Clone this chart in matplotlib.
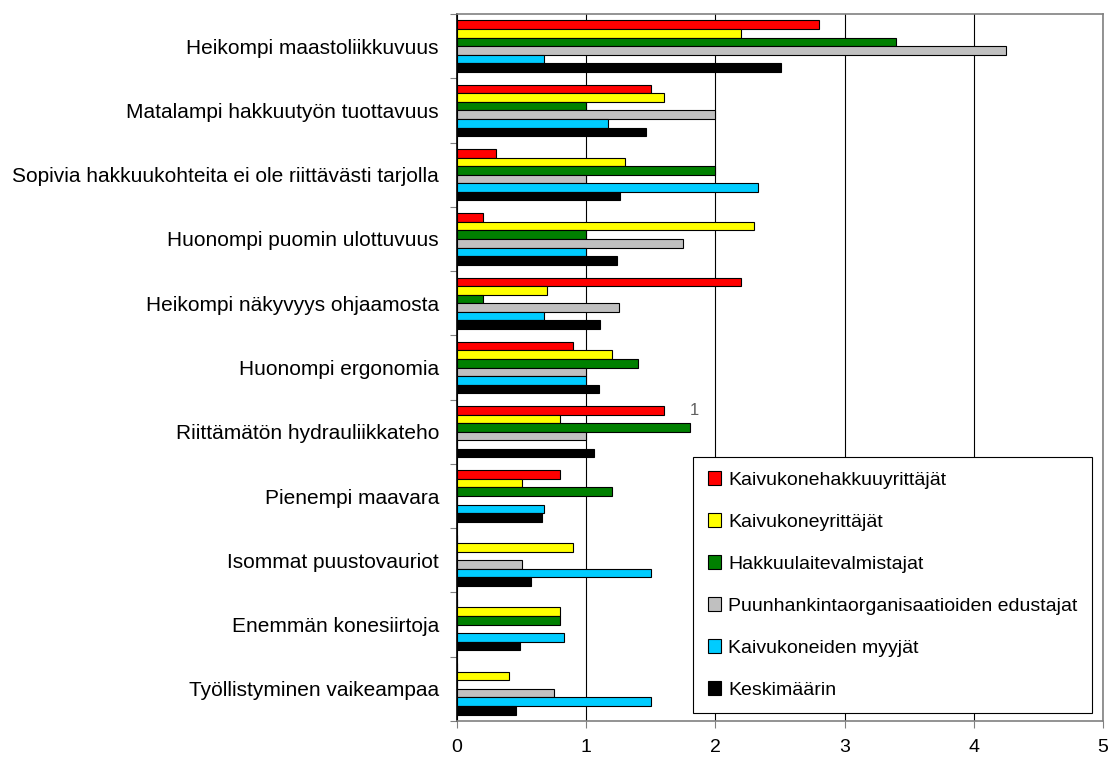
import numpy as np
import matplotlib
matplotlib.use("Agg")
import matplotlib.pyplot as plt

plt.rcParams["font.family"] = ["Liberation Sans", "DejaVu Sans"]

categories = [
    "Heikompi maastoliikkuvuus",
    "Matalampi hakkuutyön tuottavuus",
    "Sopivia hakkuukohteita ei ole riittävästi tarjolla",
    "Huonompi puomin ulottuvuus",
    "Heikompi näkyvyys ohjaamosta",
    "Huonompi ergonomia",
    "Riittämätön hydrauliikkateho",
    "Pienempi maavara",
    "Isommat puustovauriot",
    "Enemmän konesiirtoja",
    "Työllistyminen vaikeampaa",
]

kaivukonehakkuuyrittajat = [2.8, 1.5, 0.3, 0.2, 2.2, 0.9, 1.6, 0.8, 0, 0, 0]
kaivukoneyrittajat = [2.2, 1.6, 1.3, 2.3, 0.7, 1.2, 0.8, 0.5, 0.9, 0.8, 0.4]
hakkuulaitevalmistajat = [3.4, 1.0, 2.0, 1.0, 0.2, 1.4, 1.8, 1.2, 0, 0.8, 0]
puunhankinta = [4.25, 2.0, 1.0, 1.75, 1.25, 1.0, 1.0, 0, 0.5, 0, 0.75]
myyjat = [0.67, 1.17, 2.33, 1.0, 0.67, 1.0, 0, 0.67, 1.5, 0.83, 1.5]
keskimaarin = [2.51, 1.46, 1.26, 1.24, 1.11, 1.10, 1.06, 0.66, 0.57, 0.49, 0.46]

series = [
    ("Kaivukonehakkuuyrittäjät", kaivukonehakkuuyrittajat, "#ff0000"),
    ("Kaivukoneyrittäjät", kaivukoneyrittajat, "#ffff00"),
    ("Hakkuulaitevalmistajat", hakkuulaitevalmistajat, "#008000"),
    ("Puunhankintaorganisaatioiden edustajat", puunhankinta, "#c0c0c0"),
    ("Kaivukoneiden myyjät", myyjat, "#00ccff"),
    ("Keskimäärin", keskimaarin, "#000000"),
]

W, H = 1117, 763
fig = plt.figure(figsize=(W / 100, H / 100), dpi=100)
ax = fig.add_axes([457 / W, (H - 721) / H, 646 / W, 707 / H])

y = np.arange(len(categories))
bh = 0.8 / len(series)
for i, (name, vals, col) in enumerate(series):
    ax.barh(y - 0.4 + bh * (i + 0.5), vals, height=bh, color=col,
            edgecolor="black", linewidth=0.8, label=name, zorder=3)

ax.set_xlim(0, 5)
ax.set_ylim(len(categories) - 0.5, -0.5)
ax.set_xticks(range(6))
ax.set_yticks(np.arange(len(categories) + 1) - 0.5)
ax.set_yticklabels([])
ax.set_yticks(y, minor=True)
ax.set_yticklabels(categories, minor=True, fontsize=15)
ax.tick_params(axis="y", which="minor", length=0, pad=13)
ax.tick_params(axis="y", which="major", length=5, color="#808080")
ax.tick_params(axis="x", length=5, labelsize=14, pad=8, color="#808080")
ax.xaxis.grid(True, color="#000000", linewidth=0.8, zorder=0)
for s in ax.spines.values():
    s.set_color("#808080")
    s.set_linewidth(1.2)
ax.spines["left"].set_color("#000000")

ax.text(1.84, 5.67, "1", fontsize=12, color="#606060", ha="center", va="center")

leg = ax.legend(loc="lower right", bbox_to_anchor=(0.983, 0.011), borderaxespad=0,
                fontsize=14, frameon=True, fancybox=False, framealpha=1,
                edgecolor="black", labelspacing=1.25, handlelength=0.7,
                handleheight=0.7, handletextpad=0.35, borderpad=0.75)
leg.get_frame().set_linewidth(0.8)

fig.savefig("out.png", dpi=100)
